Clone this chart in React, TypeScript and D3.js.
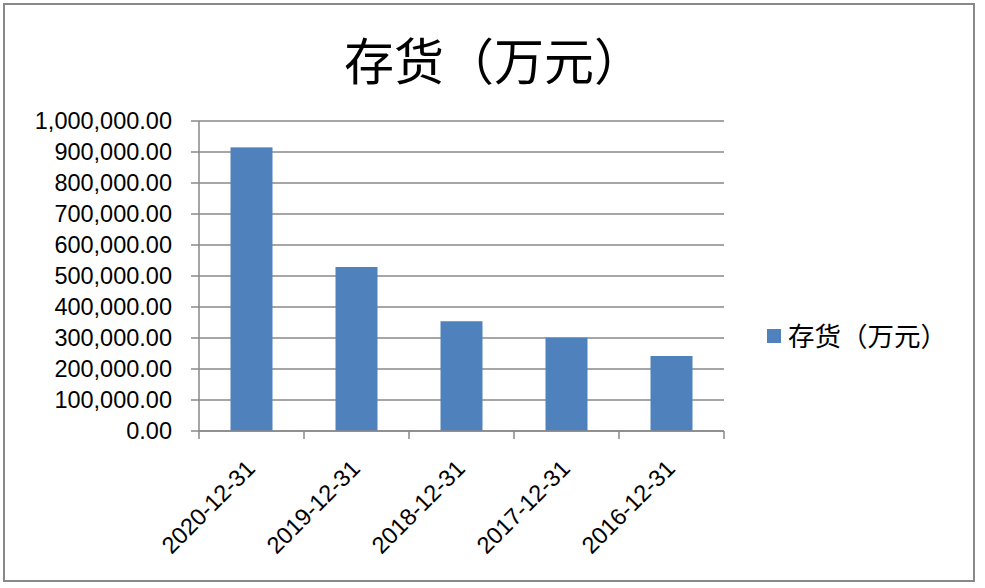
import * as d3 from "d3";

const TITLE = "存货（万元）";
const SERIES_NAME = "存货（万元）";
const categories = ["2020-12-31", "2019-12-31", "2018-12-31", "2017-12-31", "2016-12-31"];
const inventory = [915000, 529000, 354000, 301000, 242000];
const yTicks = [0, 100000, 200000, 300000, 400000, 500000, 600000, 700000, 800000, 900000, 1000000];

const WIDTH = 985;
const HEIGHT = 588;
const PLOT = { left: 199, right: 724, top: 121, bottom: 431 };
const BAR_COLOR = "#4f81bd";
const AXIS_COLOR = "#898989";
const LATIN_FONT = "'Liberation Sans', Arial, sans-serif";
const CJK_FONT = "'Noto Sans CJK SC', sans-serif";

export default function App() {
  const x = d3.scaleBand<string>().domain(categories).range([PLOT.left, PLOT.right]).paddingInner(0.6).paddingOuter(0.3);
  const step = (PLOT.right - PLOT.left) / categories.length;
  const y = d3.scaleLinear().domain([0, 1000000]).range([PLOT.bottom, PLOT.top]);
  const fmt = d3.format(",.2f");

  return (
    <svg
      width={WIDTH}
      height={HEIGHT}
      viewBox={`0 0 ${WIDTH} ${HEIGHT}`}
      style={{ position: "absolute", left: 0, top: 0, background: "#fff" }}
    >
      <rect x={4} y={4} width={970} height={577} fill="#fff" stroke={AXIS_COLOR} strokeWidth={2} />

      <text x={494} y={80} textAnchor="middle" fontFamily={CJK_FONT} fontSize={50} fill="#000">
        {TITLE}
      </text>

      {/* gridlines and y labels */}
      {yTicks.map((tick) => (
        <g key={tick}>
          <line x1={PLOT.left - 8} x2={PLOT.right} y1={y(tick)} y2={y(tick)} stroke={AXIS_COLOR} strokeWidth={1.5} />
          <text
            x={172}
            y={y(tick)}
            dy="0.36em"
            textAnchor="end"
            fontFamily={LATIN_FONT}
            fontSize={23.5}
            fill="#000"
          >
            {fmt(tick)}
          </text>
        </g>
      ))}

      {/* bars */}
      {inventory.map((value, i) => (
        <rect
          key={categories[i]}
          x={x(categories[i])}
          y={y(value)}
          width={x.bandwidth()}
          height={PLOT.bottom - y(value)}
          fill={BAR_COLOR}
        />
      ))}

      {/* axes */}
      <line x1={PLOT.left} x2={PLOT.left} y1={PLOT.top} y2={PLOT.bottom} stroke={AXIS_COLOR} strokeWidth={1.5} />
      <line x1={PLOT.left} x2={PLOT.right} y1={PLOT.bottom} y2={PLOT.bottom} stroke={AXIS_COLOR} strokeWidth={1.5} />
      {d3.range(categories.length + 1).map((i) => (
        <line
          key={i}
          x1={PLOT.left + i * step}
          x2={PLOT.left + i * step}
          y1={PLOT.bottom}
          y2={PLOT.bottom + 8}
          stroke={AXIS_COLOR}
          strokeWidth={1.5}
        />
      ))}

      {/* rotated x labels */}
      {categories.map((c) => {
        const cx = (x(c) ?? 0) + x.bandwidth() / 2;
        const px = cx + 5;
        const py = 470;
        return (
          <text
            key={c}
            x={px}
            y={py}
            textAnchor="end"
            transform={`rotate(-45 ${px} ${py})`}
            fontFamily={LATIN_FONT}
            fontSize={23.5}
            fill="#000"
          >
            {c}
          </text>
        );
      })}

      {/* legend */}
      <rect x={767} y={329} width={14} height={14} fill={BAR_COLOR} />
      <text x={788} y={336} dy="0.36em" fontFamily={CJK_FONT} fontSize={26.5} fill="#000">
        {SERIES_NAME}
      </text>
    </svg>
  );
}
